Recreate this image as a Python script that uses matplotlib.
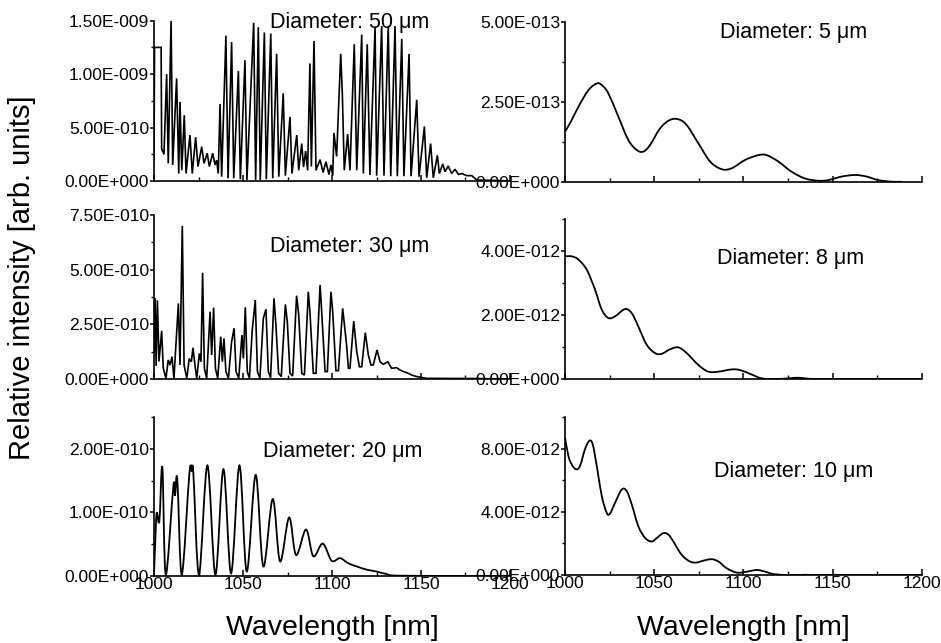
import matplotlib
matplotlib.use("Agg")
import matplotlib.pyplot as plt
from matplotlib.ticker import MultipleLocator, FuncFormatter
from matplotlib.path import Path
from matplotlib.patches import PathPatch

plt.rcParams['font.family'] = ['Liberation Sans', 'DejaVu Sans']

# ---------------- data (wavelength nm, intensity in panel units) ----------------
# Diameter 50 um (units 1e-10)
wl_50 = [1000.0, 1000.3, 1004.0, 1004.3, 1005.6, 1007.1, 1008.0, 1009.6, 1010.5, 1012.7,
         1013.9, 1014.6, 1015.6, 1017.0, 1018.0, 1020.2, 1021.5, 1023.4, 1024.7, 1026.8,
         1028.1, 1029.9, 1031.1, 1033.0, 1034.3, 1035.2, 1036.1, 1037.1, 1038.0, 1040.4,
         1041.6, 1043.6, 1044.8, 1047.4, 1048.5, 1051.1, 1052.2, 1056.0, 1057.1, 1058.6,
         1059.7, 1062.0, 1063.1, 1065.6, 1066.7, 1068.9, 1070.1, 1072.6, 1073.8, 1076.4,
         1077.5, 1080.2, 1081.3, 1083.0, 1084.0, 1085.2, 1086.3, 1087.6, 1088.4, 1089.9,
         1091.0, 1093.3, 1095.0, 1096.6, 1098.3, 1099.4, 1100.4, 1101.1, 1102.6, 1104.9,
         1105.8, 1106.9, 1108.8, 1110.1, 1112.5, 1113.9, 1116.7, 1117.6, 1119.8, 1121.3,
         1124.2, 1125.1, 1127.9, 1129.2, 1131.6, 1133.0, 1135.4, 1136.7, 1139.2, 1140.4,
         1143.3, 1144.4, 1147.6, 1148.9, 1151.9, 1153.2, 1155.4, 1156.9, 1159.2, 1160.3,
         1162.2, 1163.5, 1165.3, 1167.2, 1169.1, 1171.0, 1172.9, 1175.7, 1178.5, 1181.3,
         1200.0]
int_50 = [2.0, 12.5, 12.5, 3.0, 2.5, 10.0, 1.65, 15.0, 1.5, 9.6,
          0.7, 7.4, 1.0, 6.15, 0.7, 4.3, 0.7, 4.1, 1.35, 3.2,
          1.65, 2.6, 1.35, 2.6, 1.5, 1.95, 0.7, 7.2, 0.4, 13.6,
          0.25, 13.0, 0.25, 10.3, 0.16, 11.3, 0.1, 14.8, 0.1, 14.4,
          0.1, 13.9, 0.16, 13.8, 0.25, 11.9, 0.4, 8.2, 0.5, 6.0,
          0.7, 4.3, 1.0, 3.5, 1.3, 2.8, 1.0, 11.0, 1.35, 13.1,
          1.0, 2.0, 0.8, 1.8, 0.6, 1.5, 0.5, 4.5, 2.3, 11.9,
          8.2, 1.0, 4.4, 1.0, 12.8, 1.0, 13.7, 0.7, 12.8, 0.56,
          14.4, 0.5, 14.5, 0.5, 14.5, 0.45, 14.5, 0.45, 13.3, 0.45,
          11.9, 0.45, 7.6, 0.4, 5.1, 0.3, 3.5, 0.3, 2.4, 0.7,
          1.6, 0.87, 1.4, 0.7, 1.1, 0.62, 0.7, 0.5, 0.5, 0.1,
          0.0]

# Diameter 30 um (units 1e-10)
wl_30 = [1000.0, 1000.6, 1001.2, 1001.9, 1002.8, 1004.3, 1005.2, 1006.7, 1008.0, 1009.0,
         1010.1, 1011.2, 1013.7, 1014.6, 1015.9, 1016.9, 1018.4, 1019.8, 1021.0, 1021.9,
         1023.0, 1024.0, 1025.5, 1026.4, 1027.3, 1028.3, 1029.6, 1031.5, 1032.4, 1033.5,
         1034.5, 1035.8, 1037.5, 1038.4, 1039.3, 1040.4, 1041.8, 1043.6, 1045.0, 1046.1,
         1047.6, 1049.4, 1050.2, 1051.3, 1052.4, 1053.6, 1055.2, 1056.9, 1058.1, 1059.5,
         1061.4, 1062.9, 1064.2, 1065.5, 1067.4, 1068.5, 1070.0, 1071.5, 1073.8, 1074.9,
         1076.4, 1077.9, 1080.1, 1081.3, 1083.0, 1084.5, 1086.7, 1087.6, 1089.5, 1091.0,
         1093.3, 1094.2, 1096.1, 1097.4, 1099.4, 1100.4, 1102.2, 1103.6, 1106.0, 1108.2,
         1109.2, 1110.1, 1112.2, 1113.9, 1115.4, 1116.7, 1118.7, 1120.4, 1121.9, 1123.2,
         1125.3, 1127.0, 1128.8, 1131.3, 1133.5, 1136.3, 1137.8, 1140.1, 1142.9, 1144.8,
         1147.6, 1153.2, 1183.1, 1200.0]
int_30 = [1.2, 3.7, 0.6, 3.6, 0.8, 2.2, 0.5, 0.03, 0.87, 0.64,
          1.02, 0.03, 3.46, 0.64, 7.0, 0.64, 0.03, 0.94, 0.79, 1.43,
          0.64, 0.03, 1.17, 0.79, 4.86, 0.49, 0.03, 3.08, 1.10, 3.26,
          0.49, 0.03, 1.94, 0.79, 1.86, 0.34, 0.03, 1.71, 2.32, 0.34,
          0.03, 2.01, 0.94, 3.28, 0.34, 0.03, 2.24, 3.61, 0.34, 0.03,
          2.77, 3.19, 0.34, 0.06, 3.69, 2.47, 0.26, 0.11, 3.41, 2.62,
          0.26, 0.14, 3.81, 2.93, 0.26, 0.18, 3.99, 3.08, 0.26, 0.26,
          4.30, 3.08, 0.34, 0.34, 3.99, 3.08, 0.38, 0.38, 3.23, 1.55,
          0.49, 0.49, 2.65, 1.25, 0.56, 0.56, 2.12, 1.10, 0.64, 0.64,
          1.33, 0.79, 0.67, 0.79, 0.49, 0.52, 0.43, 0.34, 0.26, 0.18,
          0.11, 0.03, 0.02, 0.0]

# Diameter 20 um (units 1e-10)
wl_20 = [1000.0, 1000.6, 1001.5, 1003.0, 1004.7, 1006.6, 1010.9, 1011.8, 1013.1, 1015.6,
         1019.9, 1021.2, 1022.1, 1025.3, 1030.0, 1034.5, 1039.0, 1043.3, 1048.0, 1052.1,
         1057.1, 1061.4, 1066.7, 1070.8, 1075.9, 1079.8, 1085.4, 1089.5, 1094.8, 1099.8,
         1104.5, 1109.2, 1113.9, 1119.5, 1125.1, 1130.7, 1138.2, 1183.0, 1200.0]
int_20 = [0.02, 0.47, 0.99, 0.86, 1.71, 0.02, 1.42, 1.26, 1.52, 0.02,
          1.62, 1.64, 1.62, 0.02, 1.74, 0.02, 1.68, 0.04, 1.74, 0.07,
          1.59, 0.15, 1.21, 0.23, 0.92, 0.33, 0.73, 0.31, 0.51, 0.24,
          0.28, 0.20, 0.15, 0.10, 0.07, 0.03, 0.005, 0.0, 0.0]

# Diameter 5 um (units 1e-13)
wl_5 = [1000.0, 1003.8, 1007.5, 1013.1, 1017.8, 1020.6, 1024.3, 1029.9, 1035.5, 1040.2,
        1043.9, 1047.7, 1053.3, 1058.8, 1063.5, 1068.2, 1074.7, 1081.3, 1087.8, 1093.4,
        1100.9, 1108.3, 1113.0, 1119.5, 1127.0, 1134.5, 1141.9, 1147.5, 1155.0, 1162.5,
        1169.0, 1175.5, 1183.0, 1188.6]
int_5 = [1.56, 1.93, 2.34, 2.86, 3.07, 3.02, 2.76, 2.03, 1.30, 0.99,
         0.94, 1.15, 1.67, 1.93, 1.95, 1.77, 1.20, 0.63, 0.39, 0.42,
         0.68, 0.83, 0.83, 0.63, 0.31, 0.10, 0.03, 0.05, 0.16, 0.21,
         0.16, 0.05, 0.0, 0.0]

# Diameter 8 um (units 1e-12)
wl_8 = [1000.0, 1003.8, 1007.5, 1012.2, 1016.8, 1020.6, 1024.3, 1028.0, 1033.6, 1037.4,
        1041.1, 1045.8, 1050.5, 1054.2, 1058.9, 1063.5, 1068.2, 1074.7, 1080.3, 1085.9,
        1093.4, 1098.1, 1103.7, 1110.2, 1117.7, 1125.1, 1130.7, 1136.3, 1143.8, 1200.0]
int_8 = [3.84, 3.84, 3.74, 3.42, 2.80, 2.17, 1.91, 1.96, 2.19, 2.06,
         1.64, 1.07, 0.81, 0.79, 0.93, 0.99, 0.81, 0.44, 0.23, 0.23,
         0.30, 0.28, 0.16, 0.02, 0.0, 0.02, 0.04, 0.01, 0.0, 0.0]

# Diameter 10 um (units 1e-12)
wl_10 = [1000.0, 1001.9, 1003.7, 1006.2, 1008.4, 1011.2, 1013.6, 1015.5, 1017.8, 1020.6,
         1023.4, 1025.2, 1028.0, 1031.8, 1034.6, 1037.4, 1041.1, 1044.9, 1048.6, 1051.4,
         1055.1, 1058.0, 1060.7, 1065.4, 1070.1, 1073.8, 1077.6, 1082.2, 1086.0, 1090.7,
         1096.3, 1101.9, 1107.5, 1112.2, 1116.8, 1124.3, 1131.8, 1135.5, 1141.1, 1200.0]
int_10 = [8.70, 7.54, 7.01, 6.69, 6.90, 7.96, 8.49, 8.28, 6.90, 4.99,
          3.93, 3.89, 4.56, 5.41, 5.31, 4.46, 3.08, 2.34, 2.12, 2.34,
          2.65, 2.55, 2.12, 1.27, 0.85, 0.79, 0.91, 1.00, 0.85, 0.42,
          0.15, 0.21, 0.32, 0.21, 0.06, 0.0, 0.0, 0.02, 0.0, 0.0]

labels = ["Diameter: 50 \u03bcm", "Diameter: 30 \u03bcm", "Diameter: 20 \u03bcm",
          "Diameter: 5 \u03bcm", "Diameter: 8 \u03bcm", "Diameter: 10 \u03bcm"]
x_label = "Wavelength [nm]"
y_label = "Relative intensity [arb. units]"


def sci_fmt(v, pos=None):
    if abs(v) < 1e-30:
        return "0.00E+000"
    m, e = f"{v:.2E}".split("E")
    e = int(e)
    return f"{m}E{'+' if e >= 0 else '-'}{abs(e):03d}"


def smooth_path(xs, ys):
    """Bezier path through the listed points (rendering only)."""
    n = len(xs)
    verts = [(xs[0], ys[0])]
    codes = [Path.MOVETO]
    for i in range(n - 1):
        x0, y0 = xs[max(i - 1, 0)], ys[max(i - 1, 0)]
        x1, y1 = xs[i], ys[i]
        x2, y2 = xs[i + 1], ys[i + 1]
        x3, y3 = xs[min(i + 2, n - 1)], ys[min(i + 2, n - 1)]
        c1 = (x1 + (x2 - x0) / 6.0, y1 + (y2 - y0) / 6.0)
        c2 = (x2 - (x3 - x1) / 6.0, y2 - (y3 - y1) / 6.0)
        verts += [c1, c2, (x2, y2)]
        codes += [Path.CURVE4, Path.CURVE4, Path.CURVE4]
    return Path(verts, codes)


W, H = 941, 643
fig = plt.figure(figsize=(W / 100, H / 100), dpi=100)


def make_ax(x0, x1, ytop, ybot):
    return fig.add_axes([x0 / W, 1 - ybot / H, (x1 - x0) / W, (ybot - ytop) / H])


panels = [
    # (x0, x1, ytop, ybot, wl, vals, scale, ymax, major, minor, label, text pos, bottom row, smooth)
    (154, 510, 20.7, 181, wl_50, int_50, 1e-10, 1.5e-9, 5e-10, 2.5e-10, labels[0], (0.326, 0.954), False, False),
    (154, 510, 215, 379, wl_30, int_30, 1e-10, 7.5e-10, 2.5e-10, 1.25e-10, labels[1], (0.326, 0.776), False, False),
    (154, 510, 417, 576, wl_20, int_20, 1e-10, 2.5e-10, 1e-10, 0.5e-10, labels[2], (0.306, 0.746), True, True),
    (565, 922, 21.7, 181.7, wl_5, int_5, 1e-13, 5e-13, 2.5e-13, 1.25e-13, labels[3], (0.434, 0.896), False, True),
    (565, 922, 219.3, 379, wl_8, int_8, 1e-12, 5e-12, 2e-12, 1e-12, labels[4], (0.427, 0.719), False, True),
    (565, 922, 417, 575, wl_10, int_10, 1e-12, 10e-12, 4e-12, 2e-12, labels[5], (0.417, 0.618), True, True),
]

for (x0, x1, yt, yb, wl, vals, sc, ymax, maj, mnr, lab, tpos, bottom, smooth) in panels:
    ax = make_ax(x0, x1, yt, yb)
    ax.patch.set_alpha(0)
    yv = [v * sc for v in vals]
    if smooth:
        ax.add_patch(PathPatch(smooth_path(wl, yv), fill=False, edgecolor="black", lw=1.3))
    else:
        ax.plot(wl, yv, color="black", lw=1.2, solid_joinstyle="miter")
    ax.set_xlim(1000, 1200)
    ax.set_ylim(0, ymax)
    for s in ("top", "right"):
        ax.spines[s].set_visible(False)
    for s in ("left", "bottom"):
        ax.spines[s].set_linewidth(1.2)
    ax.xaxis.set_major_locator(MultipleLocator(50))
    ax.xaxis.set_minor_locator(MultipleLocator(25))
    ax.yaxis.set_major_locator(MultipleLocator(maj))
    ax.yaxis.set_minor_locator(MultipleLocator(mnr))
    ax.yaxis.set_major_formatter(FuncFormatter(sci_fmt))
    ax.tick_params(axis="x", which="major", direction="in", length=4, width=1.1,
                   labelsize=12.5, pad=1, labelbottom=bottom)
    ax.tick_params(axis="x", which="minor", direction="in", length=3, width=1.0)
    ax.tick_params(axis="y", which="major", direction="out", length=3, width=1.1,
                   labelsize=12.5, pad=0.5)
    ax.tick_params(axis="y", which="minor", direction="out", length=2, width=1.0)
    ax.text(tpos[0], tpos[1], lab, transform=ax.transAxes, fontsize=15.5,
            ha="left", va="baseline")
    if bottom:
        fig.text(((x0 + x1) / 2) / W, 1 - 635 / H, x_label, fontsize=20.5,
                 ha="center", va="baseline")

fig.text(22 / W, 1 - 278 / H, y_label, rotation=90, fontsize=21,
         ha="center", va="center")

fig.savefig("out.png", dpi=100)
